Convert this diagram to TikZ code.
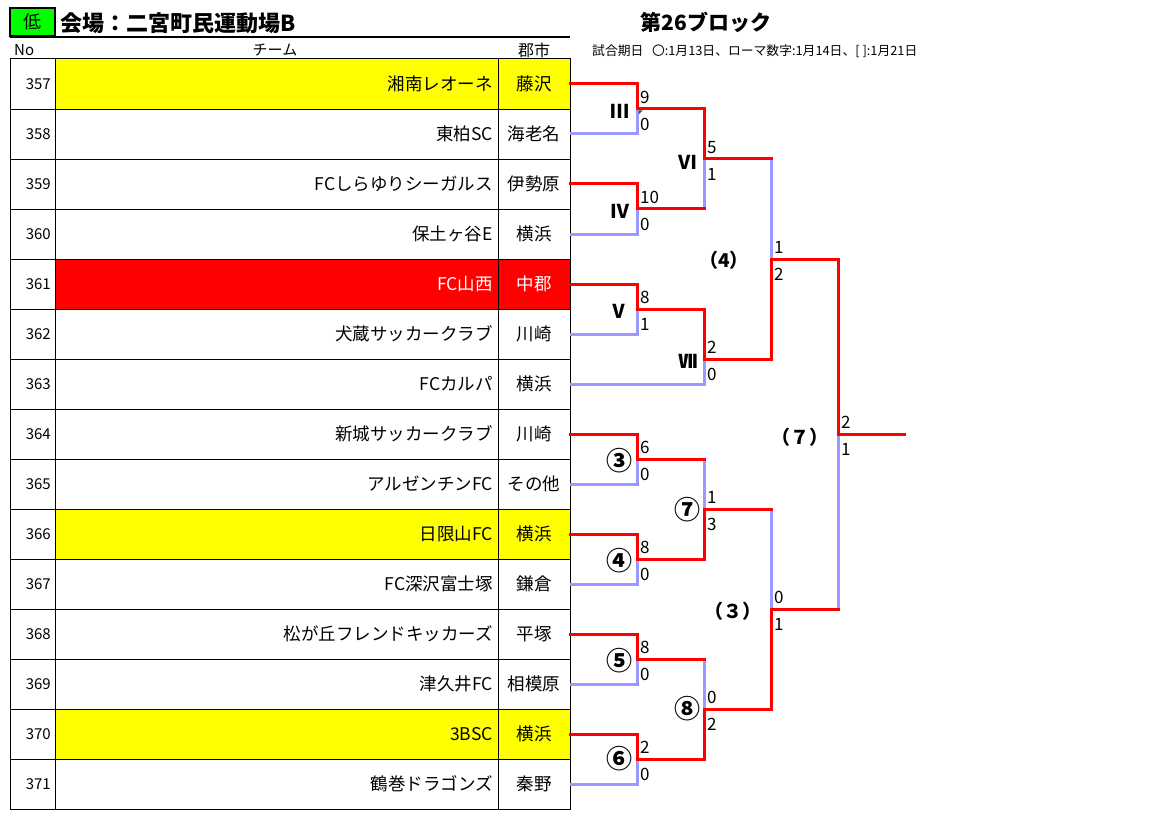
\documentclass[tikz,border=0pt]{standalone}
\usepackage{fontspec}
\setmainfont{Noto Sans CJK JP}
\usepackage{tikz}
\usetikzlibrary{calc}
\definecolor{wincol}{RGB}{255,0,0}
\definecolor{losecol}{RGB}{153,153,255}
\definecolor{markcol}{RGB}{255,255,0}
\definecolor{lowcol}{RGB}{0,255,0}
\newcommand{\wincolor}{wincol}
\newcommand{\losecolor}{losecol}
\newcommand{\linew}{3pt}
\newcommand{\gridw}{0.8pt}
\newcommand{\fs}[1]{\fontsize{#1}{#1}\selectfont}
\tikzset{
  win/.style={draw=\wincolor, line width=\linew, line cap=rect},
  lose/.style={draw=\losecolor, line width=\linew},
  numtxt/.style={anchor=east, inner sep=0pt, font=\fs{15}},
  teamtxt/.style={anchor=east, inner sep=0pt, font=\fs{17.5}},
  citytxt/.style={inner sep=0pt, font=\fs{17.5}},
  score/.style={anchor=west, inner sep=0pt, font=\fs{17}},
  romanlbl/.style={inner sep=0pt, font=\bfseries\fs{19}},
  circlbl/.style={inner sep=0pt, font=\bfseries\fs{26}},
  parlbl/.style={inner sep=0pt, font=\bfseries\fs{19}}
}

\begin{document}
\begin{tikzpicture}[x=1pt,y=-1pt]
\useasboundingbox (0,0) rectangle (1152,832);
%header
\node[draw, line width=1.5pt, fill=lowcol, minimum width=45pt, minimum height=28pt, inner sep=0pt, font=\fs{18}] (low) at (32.5,22) {低};
\node[anchor=west, inner sep=0pt, font=\bfseries\fs{22}] (venue) at (60,23) {会場：二宮町民運動場B};
\draw[line width=1.5pt] (10,37) -- (570,37);
\node[anchor=west, inner sep=0pt, font=\fs{15}] (hno) at (14,50) {No};
\node[inner sep=0pt, font=\fs{15}] (hteam) at (275,50) {チーム};
\node[inner sep=0pt, font=\fs{16}] (hcity) at (534,50) {郡市};
\node[inner sep=0pt, font=\bfseries\fs{21}] (block) at (706,22) {第26ブロック};
\node[anchor=west, inner sep=0pt, font=\fs{12.8}] (dates) at (592,51) {試合期日\ \ \ 〇:1月13日、ローマ数字:1月14日、[ ]:1月21日};
%table
\fill[markcol] (55,59) rectangle (570,109);
\fill[wincol] (55,259) rectangle (570,309);
\fill[markcol] (55,509) rectangle (570,559);
\fill[markcol] (55,709) rectangle (570,759);
\draw[line width=1pt] (10,59) rectangle (570,809);
\draw[line width=\gridw] (55,59) -- (55,809);
\draw[line width=\gridw] (498,59) -- (498,809);
\draw[line width=\gridw] (10,109) -- (570,109);
\draw[line width=\gridw] (10,159) -- (570,159);
\draw[line width=\gridw] (10,209) -- (570,209);
\draw[line width=\gridw] (10,259) -- (570,259);
\draw[line width=\gridw] (10,309) -- (570,309);
\draw[line width=\gridw] (10,359) -- (570,359);
\draw[line width=\gridw] (10,409) -- (570,409);
\draw[line width=\gridw] (10,459) -- (570,459);
\draw[line width=\gridw] (10,509) -- (570,509);
\draw[line width=\gridw] (10,559) -- (570,559);
\draw[line width=\gridw] (10,609) -- (570,609);
\draw[line width=\gridw] (10,659) -- (570,659);
\draw[line width=\gridw] (10,709) -- (570,709);
\draw[line width=\gridw] (10,759) -- (570,759);
%rows
\node[numtxt] (n357) at (51,84) {357};
\node[teamtxt] (t357) at (493,84) {湘南レオーネ};
\node[citytxt] (c357) at (534,84) {藤沢};
\node[numtxt] (n358) at (51,134) {358};
\node[teamtxt] (t358) at (493,134) {東柏SC};
\node[citytxt] (c358) at (534,134) {海老名};
\node[numtxt] (n359) at (51,184) {359};
\node[teamtxt] (t359) at (493,184) {FCしらゆりシーガルス};
\node[citytxt] (c359) at (534,184) {伊勢原};
\node[numtxt] (n360) at (51,234) {360};
\node[teamtxt] (t360) at (493,234) {保土ヶ谷E};
\node[citytxt] (c360) at (534,234) {横浜};
\node[numtxt] (n361) at (51,284) {361};
\node[teamtxt, text=white] (t361) at (493,284) {FC山西};
\node[citytxt, text=white] (c361) at (534,284) {中郡};
\node[numtxt] (n362) at (51,334) {362};
\node[teamtxt] (t362) at (493,334) {犬蔵サッカークラブ};
\node[citytxt] (c362) at (534,334) {川崎};
\node[numtxt] (n363) at (51,384) {363};
\node[teamtxt] (t363) at (493,384) {FCカルパ};
\node[citytxt] (c363) at (534,384) {横浜};
\node[numtxt] (n364) at (51,434) {364};
\node[teamtxt] (t364) at (493,434) {新城サッカークラブ};
\node[citytxt] (c364) at (534,434) {川崎};
\node[numtxt] (n365) at (51,484) {365};
\node[teamtxt] (t365) at (493,484) {アルゼンチンFC};
\node[citytxt] (c365) at (534,484) {その他};
\node[numtxt] (n366) at (51,534) {366};
\node[teamtxt] (t366) at (493,534) {日限山FC};
\node[citytxt] (c366) at (534,534) {横浜};
\node[numtxt] (n367) at (51,584) {367};
\node[teamtxt] (t367) at (493,584) {FC深沢富士塚};
\node[citytxt] (c367) at (534,584) {鎌倉};
\node[numtxt] (n368) at (51,634) {368};
\node[teamtxt] (t368) at (493,634) {松が丘フレンドキッカーズ};
\node[citytxt] (c368) at (534,634) {平塚};
\node[numtxt] (n369) at (51,684) {369};
\node[teamtxt] (t369) at (493,684) {津久井FC};
\node[citytxt] (c369) at (534,684) {相模原};
\node[numtxt] (n370) at (51,734) {370};
\node[teamtxt] (t370) at (493,734) {3BSC};
\node[citytxt] (c370) at (534,734) {横浜};
\node[numtxt] (n371) at (51,784) {371};
\node[teamtxt] (t371) at (493,784) {鶴巻ドラゴンズ};
\node[citytxt] (c371) at (534,784) {秦野};
%bracket points
\coordinate (e357) at (570,84);
\coordinate (e358) at (570,134);
\coordinate (e359) at (570,184);
\coordinate (e360) at (570,234);
\coordinate (e361) at (570,284);
\coordinate (e362) at (570,334);
\coordinate (e363) at (570,384);
\coordinate (e364) at (570,434);
\coordinate (e365) at (570,484);
\coordinate (e366) at (570,534);
\coordinate (e367) at (570,584);
\coordinate (e368) at (570,634);
\coordinate (e369) at (570,684);
\coordinate (e370) at (570,734);
\coordinate (e371) at (570,784);
\coordinate (m3) at (637,109);
\coordinate (m4) at (637,209);
\coordinate (m5) at (637,309);
\coordinate (k3) at (637,459);
\coordinate (k4) at (637,559);
\coordinate (k5) at (637,659);
\coordinate (k6) at (637,759);
\coordinate (m6) at (704,159);
\coordinate (m7) at (704,359);
\coordinate (k7) at (704,509);
\coordinate (k8) at (704,709);
\coordinate (p4) at (771,259);
\coordinate (p3) at (771,609);
\coordinate (p7) at (838,434);
\coordinate (out) at (904,434);
%losers
\draw[lose] (e358) -| (m3);
\draw[lose] (e360) -| (m4);
\draw[lose] (e362) -| (m5);
\draw[lose] (e365) -| (k3);
\draw[lose] (e367) -| (k4);
\draw[lose] (e369) -| (k5);
\draw[lose] (e371) -| (k6);
\draw[lose] (m4 -| m6) -- (m6);
\draw[lose] (e363) -| (m7);
\draw[lose] (k3 -| k7) -- (k7);
\draw[lose] (k5 -| k8) -- (k8);
\draw[lose] (m6 -| p4) -- (p4);
\draw[lose] (k7 -| p3) -- (p3);
\draw[lose] (p3 -| p7) -- (p7);
%winners
\draw[win] (e357) -| (m3);
\draw[win] (e359) -| (m4);
\draw[win] (e361) -| (m5);
\draw[win] (e364) -| (k3);
\draw[win] (e366) -| (k4);
\draw[win] (e368) -| (k5);
\draw[win] (e370) -| (k6);
\draw[win] (m3) -| (m6);
\draw[win] (m4) -- (m4 -| m6);
\draw[win] (m5) -| (m7);
\draw[win] (k3) -- (k3 -| k7);
\draw[win] (k4) -| (k7);
\draw[win] (k5) -- (k5 -| k8);
\draw[win] (k6) -| (k8);
\draw[win] (m6) -- (m6 -| p4);
\draw[win] (m7) -| (p4);
\draw[win] (k7) -- (k7 -| p3);
\draw[win] (k8) -| (p3);
\draw[win] (p4) -| (p7);
\draw[win] (p3) -- (p3 -| p7);
\draw[win] (p7) -- (out);
\fill[green!50!black] (638.5,110.5) -- (642.5,110.5) -- (638.5,114.5) -- cycle;
%scores
\node[score] (s3a) at ($(m3)+(3,-11.5)$) {9};
\node[score] (s3b) at ($(m3)+(3,15)$) {0};
\node[score] (s4a) at ($(m4)+(3,-11.5)$) {10};
\node[score] (s4b) at ($(m4)+(3,15)$) {0};
\node[score] (s5a) at ($(m5)+(3,-11.5)$) {8};
\node[score] (s5b) at ($(m5)+(3,15)$) {1};
\node[score] (s6a) at ($(m6)+(3,-11.5)$) {5};
\node[score] (s6b) at ($(m6)+(3,15)$) {1};
\node[score] (s7a) at ($(m7)+(3,-11.5)$) {2};
\node[score] (s7b) at ($(m7)+(3,15)$) {0};
\node[score] (q3a) at ($(k3)+(3,-11.5)$) {6};
\node[score] (q3b) at ($(k3)+(3,15)$) {0};
\node[score] (q4a) at ($(k4)+(3,-11.5)$) {8};
\node[score] (q4b) at ($(k4)+(3,15)$) {0};
\node[score] (q5a) at ($(k5)+(3,-11.5)$) {8};
\node[score] (q5b) at ($(k5)+(3,15)$) {0};
\node[score] (q6a) at ($(k6)+(3,-11.5)$) {2};
\node[score] (q6b) at ($(k6)+(3,15)$) {0};
\node[score] (q7a) at ($(k7)+(3,-11.5)$) {1};
\node[score] (q7b) at ($(k7)+(3,15)$) {3};
\node[score] (q8a) at ($(k8)+(3,-11.5)$) {0};
\node[score] (q8b) at ($(k8)+(3,15)$) {2};
\node[score] (r4a) at ($(p4)+(3,-11.5)$) {1};
\node[score] (r4b) at ($(p4)+(3,15)$) {2};
\node[score] (r3a) at ($(p3)+(3,-11.5)$) {0};
\node[score] (r3b) at ($(p3)+(3,15)$) {1};
\node[score] (r7a) at ($(p7)+(3,-11.5)$) {2};
\node[score] (r7b) at ($(p7)+(3,15)$) {1};
%match labels
\node[romanlbl] (l3) at (620,111) {Ⅲ};
\node[romanlbl] (l4) at (620,211) {Ⅳ};
\node[romanlbl] (l5) at (619,311) {Ⅴ};
\node[romanlbl] (l6) at (688,162) {Ⅵ};
\node[romanlbl] (l7) at (688,361) {Ⅶ};
\node[circlbl] (o3) at (619,461) {③};
\node[circlbl] (o4) at (619,561) {④};
\node[circlbl] (o5) at (619,661) {⑤};
\node[circlbl] (o6) at (619,759) {⑥};
\node[circlbl] (o7) at (687,510) {⑦};
\node[circlbl] (o8) at (687,709) {⑧};
\node[parlbl] (b4) at (724,260) {（4）};
\node[parlbl] (b3) at (733,611) {（３）};
\node[parlbl] (b7) at (800,437) {（７）};
\end{tikzpicture}
\end{document}
